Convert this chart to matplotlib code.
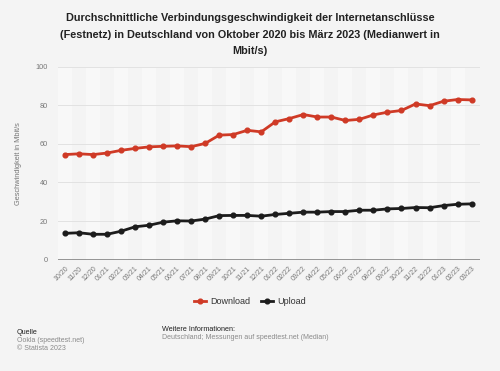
import matplotlib

matplotlib.use("Agg")

import matplotlib.pyplot as plt
import numpy as np

plt.rcParams['font.family'] = ['Liberation Sans', 'DejaVu Sans']

# Months Oct 2020 - Mar 2023
months = ['10/20', '11/20', '12/20', '01/21', '02/21', '03/21', '04/21', '05/21',
          '06/21', '07/21', '08/21', '09/21', '10/21', '11/21', '12/21', '01/22',
          '02/22', '03/22', '04/22', '05/22', '06/22', '07/22', '08/22', '09/22',
          '10/22', '11/22', '12/22', '01/23', '02/23', '03/23']
download = [54.5, 54.9, 54.5, 55.3, 56.7, 57.7, 58.5, 58.8, 59.0, 58.6,
            60.3, 64.6, 64.9, 67.1, 66.3, 71.5, 73.2, 75.3, 74.0, 74.0,
            72.2, 72.8, 75.1, 76.5, 77.4, 80.8, 79.9, 82.2, 83.1, 82.9]
upload = [13.6, 13.9, 13.1, 13.1, 14.7, 17.0, 17.8, 19.4, 20.1, 20.0,
          21.0, 22.8, 22.9, 22.9, 22.5, 23.4, 24.0, 24.6, 24.6, 24.9,
          24.9, 25.6, 25.6, 26.3, 26.5, 27.0, 26.9, 28.0, 28.7, 28.9]
yticks = [0, 20, 40, 60, 80, 100]

bg = '#f4f4f4'
red = '#cf3a26'
black = '#1c1c1c'

fig = plt.figure(figsize=(5.0, 3.71), dpi=100, facecolor=bg)
ax = fig.add_axes([0.116, 0.3005, 0.844, 0.519], facecolor=bg)

x = np.arange(len(months))

# alternating column bands
for i in x:
    if i % 2 == 0:
        ax.axvspan(i - 0.5, i + 0.5, color='#f8f8f8', zorder=0, lw=0)

for yv in yticks[1:]:
    ax.axhline(yv, color='#e2e2e2', lw=0.7, zorder=1)
ax.axhline(0, color='#7a7a7a', lw=1.1, zorder=2)

ax.plot(x, download, color=red, lw=2.0, marker='o', ms=3.4, zorder=4, label='Download')
ax.plot(x, upload, color=black, lw=2.0, marker='o', ms=3.4, zorder=4, label='Upload')

ax.set_xlim(-0.5, 29.6)
ax.set_ylim(0, 100)
ax.set_yticks(yticks)
ax.set_yticklabels([str(v) for v in yticks], fontsize=5.3, color='#777777')
ax.set_xticks(x)
ax.set_xticklabels(months, rotation=45, ha='right', rotation_mode='anchor',
                   fontsize=5.0, color='#777777')
ax.tick_params(axis='both', length=0, pad=7)
ax.tick_params(axis='x', pad=4)
for s in ax.spines.values():
    s.set_visible(False)

ax.set_ylabel('Geschwindigkeit in Mbit/s', fontsize=5.3, color='#777777', labelpad=10)

fig.text(0.5, 0.965, 'Durchschnittliche Verbindungsgeschwindigkeit der Internetanschlüsse\n'
         '(Festnetz) in Deutschland von Oktober 2020 bis März 2023 (Medianwert in\nMbit/s)',
         ha='center', va='top', fontsize=7.8, fontweight='bold', color='#222222',
         linespacing=1.82)

leg = fig.legend(loc='center', bbox_to_anchor=(0.5, 0.188), ncol=2, frameon=False,
                 fontsize=6.5, handlelength=1.3, columnspacing=1.2, handletextpad=0.5)
for t in leg.get_texts():
    t.set_color('#333333')

fig.text(0.034, 0.105, 'Quelle', fontsize=5.2, color='#222222', va='center')
fig.text(0.034, 0.082, 'Ookla (speedtest.net)', fontsize=5.0, color='#8a8a8a', va='center')
fig.text(0.034, 0.06, '© Statista 2023', fontsize=5.0, color='#8a8a8a', va='center')
fig.text(0.325, 0.113, 'Weitere Informationen:', fontsize=5.2, color='#222222', va='center')
fig.text(0.325, 0.091, 'Deutschland; Messungen auf speedtest.net (Median)', fontsize=5.0,
         color='#8a8a8a', va='center')

fig.savefig('out.png', dpi=100, facecolor=bg)
